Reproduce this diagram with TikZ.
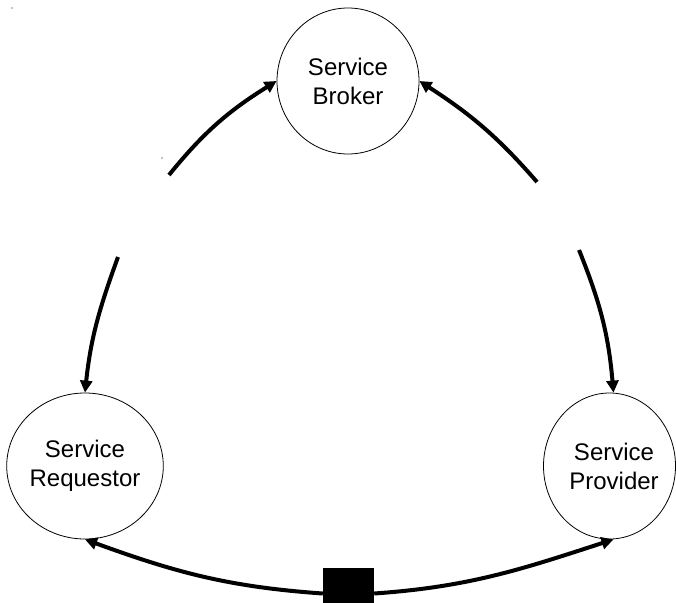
\documentclass[tikz,border=0pt]{standalone}
\usepackage{fontspec}
\setmainfont{Liberation Sans}
\usetikzlibrary{shapes.geometric,arrows.meta}
\begin{document}
\begin{tikzpicture}[x=1pt,y=-1pt,
  role/.style={draw=black,line width=0.8pt,ellipse,inner sep=0pt,
    minimum width=142pt,minimum height=146pt,align=center,
    font=\fontsize{24}{29}\selectfont},
  rolelabel/.style={align=center,inner sep=0pt,font=\fontsize{24}{29}\selectfont},
  flow/.style={line width=4pt,-{Triangle[length=12pt,width=12pt]}}]
\clip (0,0) rectangle (676,602);
\fill[white] (0,0) rectangle (676,602);
\node[role] (broker) at (348,81) {Service\\Broker};
\node[role] (req) at (85,466) {Service\\Requestor};
\node[role,minimum width=132pt] (prov) at (609.5,466) {};
\node[rolelabel] (provtext) at (614,466) {Service\\Provider};
\node[fill=black,minimum width=51pt,minimum height=51pt,inner sep=0pt] (hub) at (348.5,593.5) {};
\coordinate (a1) at (169,175);
\coordinate (a2) at (537,182);
\coordinate (a3) at (118,257);
\coordinate (a4) at (579,250);
\draw[flow] (a1) to[out=51,in=212] (broker.west);
\draw[flow] (a2) to[out=131,in=327] (broker.east);
\draw[flow] (a3) to[out=250,in=84] (req.north);
\draw[flow] (a4) to[out=-68,in=95] ([xshift=4pt]prov.north);
\draw[flow] (hub.west) to[out=176,in=340] (req.south);
\draw[flow] (hub.east) to[out=4,in=198] ([xshift=4pt]prov.south);
\coordinate (d1) at (12,8);
\coordinate (d2) at (162,158);
\fill (d1) circle (0.7pt);
\fill (d2) circle (0.7pt);
\end{tikzpicture}
\end{document}
